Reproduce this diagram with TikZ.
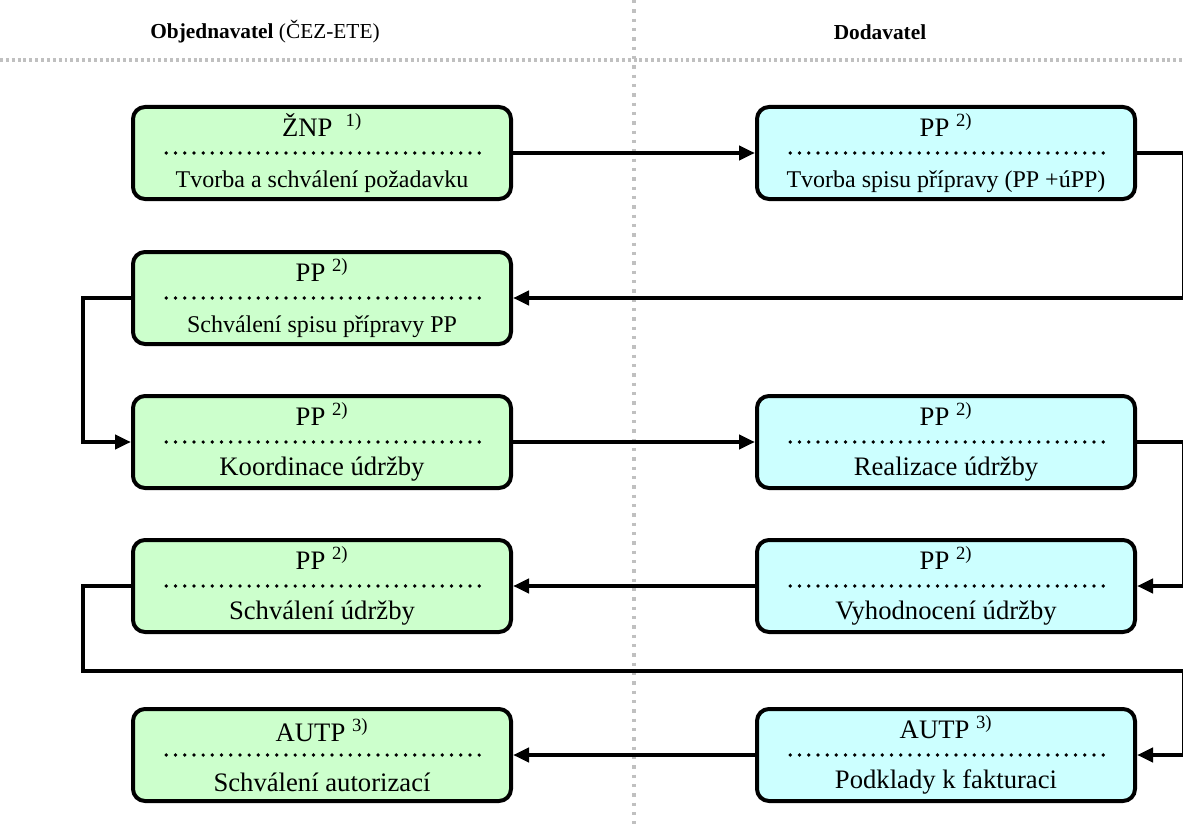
\documentclass[tikz,border=0pt]{standalone}
\usepackage{fontspec}
\setmainfont{Liberation Serif}
\usepackage{tikz}
\usetikzlibrary{arrows.meta, positioning, calc}
\usepackage{xcolor}
\definecolor{objgreen}{HTML}{CCFFCC}
\definecolor{dodcyan}{HTML}{CCFFFF}
\definecolor{sepgray}{HTML}{C0C0C0}
\tikzset{dotline/.style={line width=2.8pt, dash pattern=on 0pt off 6.9pt, line cap=round},
	stepbox/.style={draw, line width=3pt, rounded corners=9pt, minimum width=283.5pt, minimum height=69pt,
		align=center, font=\fontsize{20}{38}\selectfont, inner sep=0pt,
		path picture={\draw[dotline]
			([xshift=25pt]path picture bounding box.west)--([xshift=-19pt]path picture bounding box.east);
	}},
	objbox/.style={stepbox, fill=objgreen},
	dodbox/.style={stepbox, fill=dodcyan},
	flow/.style={line width=3pt, -{Triangle[length=12pt,width=10.5pt]}},
	header/.style={font=\fontsize{16}{19}\selectfont},
	sepline/.style={sepgray, line width=2.4pt}
}

\begin{document}
\begin{tikzpicture}[x=0.75pt, y=-0.75pt]
			\useasboundingbox (0,0) rectangle (1183,824);
			% separators
			\draw[sepline, dash pattern=on 2.2pt off 2.2pt] (0,60) -- (1183,60);
			\draw[sepline, dash pattern=on 2.6pt off 4.4pt] (634,0) -- (634,824);
			\node[header] (objhead) at (265,32) {\textbf{Objednavatel} (ČEZ-ETE)};
			\node[header] (dodhead) at (880,32) {\textbf{Dodavatel}};
			% Objednavatel
			\node[objbox] (zad) at (322,153) {ŽNP\ \ \textsuperscript{1)}\\ {\fontsize{18}{38}\selectfont Tvorba a schválení požadavku}};
			\node[objbox] (sch) at (322,298) {PP \textsuperscript{2)}\\ {\fontsize{18}{38}\selectfont Schválení spisu přípravy PP}};
			\node[objbox] (koo) at (322,442) {PP \textsuperscript{2)}\\ Koordinace údržby};
			\node[objbox] (udr) at (322,586) {PP \textsuperscript{2)}\\ Schválení údržby};
			\node[objbox] (aut) at (322,755) {AUTP \textsuperscript{3)}\\ Schválení autorizací};
			% Dodavatel
			\node[dodbox] (tvo) at (946,153) {PP \textsuperscript{2)}\\ {\fontsize{18}{38}\selectfont Tvorba spisu přípravy (PP +úPP)}};
			\node[dodbox] (rea) at (946,442) {PP \textsuperscript{2)}\\ Realizace údržby};
			\node[dodbox] (vyh) at (946,586) {PP \textsuperscript{2)}\\ Vyhodnocení údržby};
			\node[dodbox] (pod) at (946,755) {AUTP \textsuperscript{3)}\\ Podklady k fakturaci};
			% bends
			\coordinate (redge) at (1184,0);
			\coordinate (ledge) at (83,0);
			\coordinate (loopL) at (83,671);
			\coordinate (loopR) at (1184,671);
			% connectors
			\draw[flow] (zad.east) -- (tvo.west);
			\draw[flow] (tvo.east) -- (tvo.east -| redge) |- (sch.east);
			\draw[flow] (sch.west) -- (sch.west -| ledge) |- (koo.west);
			\draw[flow] (koo.east) -- (rea.west);
			\draw[flow] (rea.east) -- (rea.east -| redge) |- (vyh.east);
			\draw[flow] (vyh.west) -- (udr.east);
			\draw[flow] (udr.west) -| (loopL) -- (loopR) |- (pod.east);
			\draw[flow] (pod.west) -- (aut.east);
\end{tikzpicture}
\end{document}
